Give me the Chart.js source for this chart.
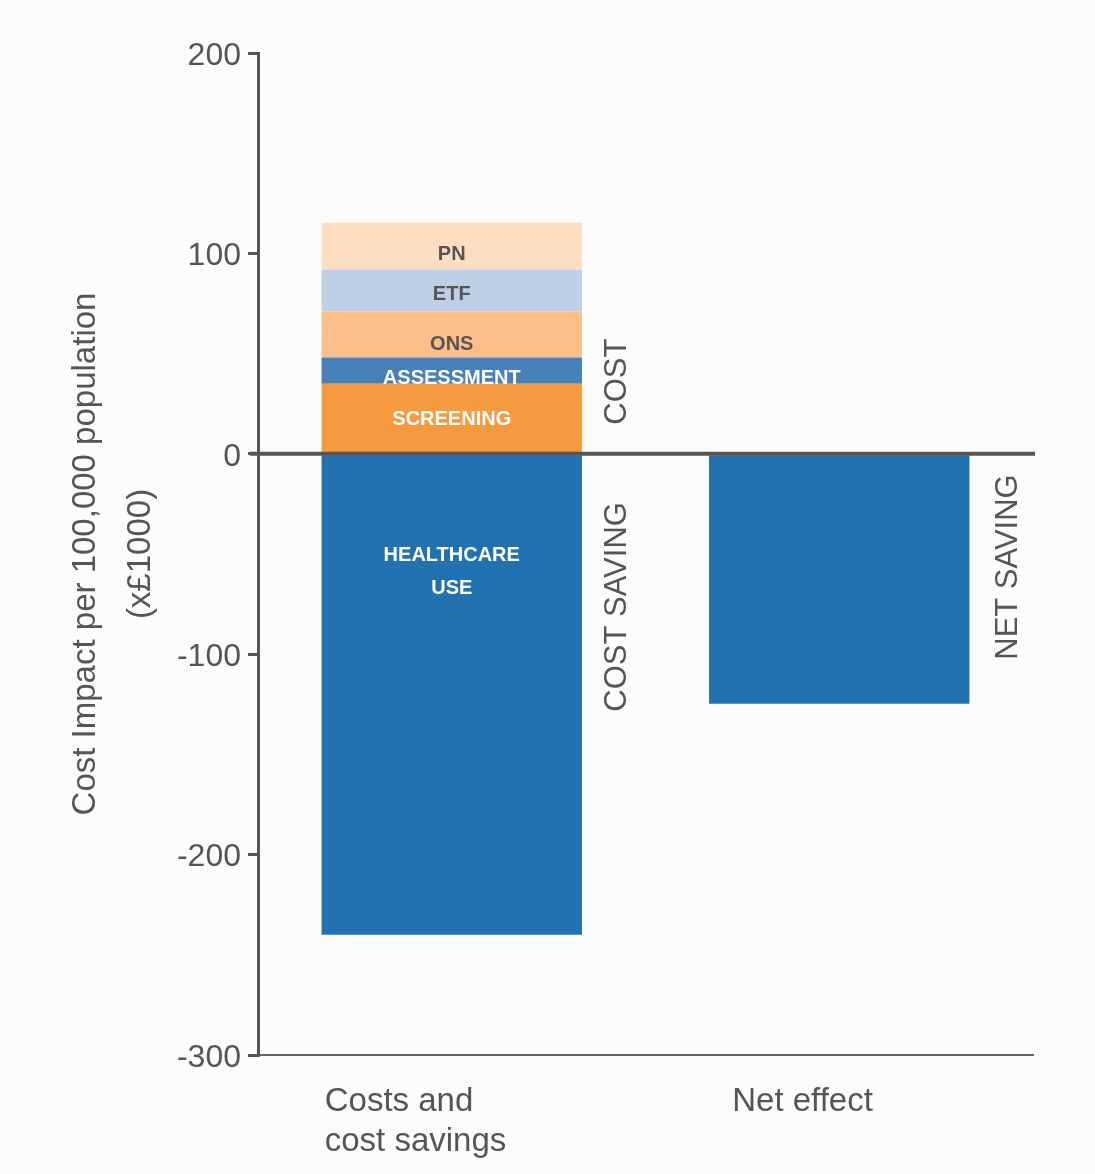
<!DOCTYPE html>
<html>
<head>
<meta charset="utf-8">
<script src="https://cdn.jsdelivr.net/npm/chart.js@4.4.1/dist/chart.umd.min.js"></script>
<style>
  html, body { margin: 0; padding: 0; background: #fcfcfc; }
  canvas { display: block; }
</style>
</head>
<body>
<canvas id="costchart" width="1095" height="1174"></canvas>
<script>
// values in £1000 per 100,000 population
var categories = [['Costs and', 'cost savings'], 'Net effect'];
var screening = [35, null];
var assessment = [13, null];
var ons = [23, null];
var etf = [21, null];
var pn = [23.3, null];
var healthcareUse = [-240, null];
var netEffect = [null, -124.7];

var yTicks = [200, 100, 0, -100, -200, -300];
var sideLabels = ['COST', 'COST SAVING', 'NET SAVING'];

var FONT = '"Liberation Sans", Arial, Helvetica, sans-serif';
var GREY = '#555555';

// text inside the bars, extra nudge in px from segment centre
var segOffsets = { 'PN': 8, 'ETF': 4, 'ONS': 10, 'ASSESSMENT': 8, 'SCREENING': 2 };

var labelsPlugin = {
    id: 'labelsPlugin',
    afterDatasetsDraw: function(chart) {
        var c = chart.ctx;
        var area = chart.chartArea;
        var y = chart.scales.y;
        var x = chart.scales.x;

        // zero line
        c.save();
        c.strokeStyle = GREY;
        c.lineWidth = 4;
        c.beginPath();
        c.moveTo(area.left - 8, y.getPixelForValue(0));
        c.lineTo(area.right + 2, y.getPixelForValue(0));
        c.stroke();

        // segment labels
        c.textAlign = 'center';
        c.textBaseline = 'middle';
        c.font = 'bold 20px ' + FONT;
        chart.data.datasets.forEach(function(ds, i) {
            if (!ds.segLabel) return;
            var bar = chart.getDatasetMeta(i).data[0];
            c.fillStyle = ds.labelColor;
            if (Array.isArray(ds.segLabel)) {
                var top = Math.min(bar.y, bar.base);
                ds.segLabel.forEach(function(t, k) {
                    c.fillText(t, bar.x, top + 100 + k * 33);
                });
            } else {
                c.fillText(ds.segLabel, bar.x, (bar.y + bar.base) / 2 + (segOffsets[ds.segLabel] || 0));
            }
        });

        // vertical side labels
        var halfW = chart.getDatasetMeta(0).data[0].width / 2;
        var side = [
            { text: sideLabels[0], cat: 0, val: 36, gap: 36 },
            { text: sideLabels[1], cat: 0, val: -76.4, gap: 36 },
            { text: sideLabels[2], cat: 1, val: -56.5, gap: 39 }
        ];
        c.font = '31px ' + FONT;
        c.fillStyle = GREY;
        side.forEach(function(s) {
            c.save();
            c.translate(x.getPixelForValue(s.cat) + halfW + s.gap, y.getPixelForValue(s.val));
            c.rotate(-Math.PI / 2);
            c.fillText(s.text, 0, 0);
            c.restore();
        });

        // category labels, left aligned below the axis
        var shifts = [-127, -107];
        c.textAlign = 'left';
        c.textBaseline = 'alphabetic';
        c.font = '33px ' + FONT;
        categories.forEach(function(lab, i) {
            var lines = Array.isArray(lab) ? lab : [lab];
            lines.forEach(function(t, k) {
                c.fillText(t, x.getPixelForValue(i) + shifts[i], area.bottom + 56 + k * 40);
            });
        });
        c.restore();
    }
};

var ctx = document.getElementById('costchart').getContext('2d');
var chart = new Chart(ctx, {
    type: 'bar',
    data: {
        labels: categories,
        datasets: [
            { segLabel: 'SCREENING', labelColor: '#ffffff', data: screening, backgroundColor: '#f59a3e' },
            { segLabel: 'ASSESSMENT', labelColor: '#ffffff', data: assessment, backgroundColor: '#4880b9' },
            { segLabel: 'ONS', labelColor: GREY, data: ons, backgroundColor: '#fdbf8a' },
            { segLabel: 'ETF', labelColor: GREY, data: etf, backgroundColor: '#bfcfe5' },
            { segLabel: 'PN', labelColor: GREY, data: pn, backgroundColor: '#fedec3' },
            { segLabel: ['HEALTHCARE', 'USE'], labelColor: '#ffffff', data: healthcareUse, backgroundColor: '#2271b0' },
            { data: netEffect, backgroundColor: '#2271b0' }
        ]
    },
    options: {
        responsive: false,
        animation: false,
        layout: { padding: { top: 53, right: 62, bottom: 0, left: 58 } },
        datasets: { bar: { barPercentage: 0.672, categoryPercentage: 1, borderWidth: 0 } },
        plugins: { legend: { display: false }, tooltip: { enabled: false } },
        scales: {
            x: {
                stacked: true,
                grid: { display: false },
                border: { display: true, color: '#666666', width: 2 },
                ticks: { display: false },
                afterFit: function(s) { s.height = 119; }
            },
            y: {
                stacked: true,
                min: -300,
                max: 200,
                afterBuildTicks: function(s) { s.ticks = yTicks.map(function(v) { return { value: v }; }); },
                ticks: { color: GREY, padding: 7, labelOffset: 3, font: { family: FONT, size: 32 } },
                grid: { drawOnChartArea: false, drawTicks: true, tickLength: 10, color: GREY, lineWidth: 3 },
                border: { display: true, color: GREY, width: 3 },
                title: {
                    display: true,
                    text: ['Cost Impact per 100,000 population', '(x£1000)'],
                    color: GREY,
                    font: { family: FONT, size: 33, lineHeight: 1.67 },
                    padding: { top: 0, bottom: 0 }
                },
                afterFit: function(s) { s.width = 200; }
            }
        }
    },
    plugins: [labelsPlugin]
});
</script>
</body>
</html>
